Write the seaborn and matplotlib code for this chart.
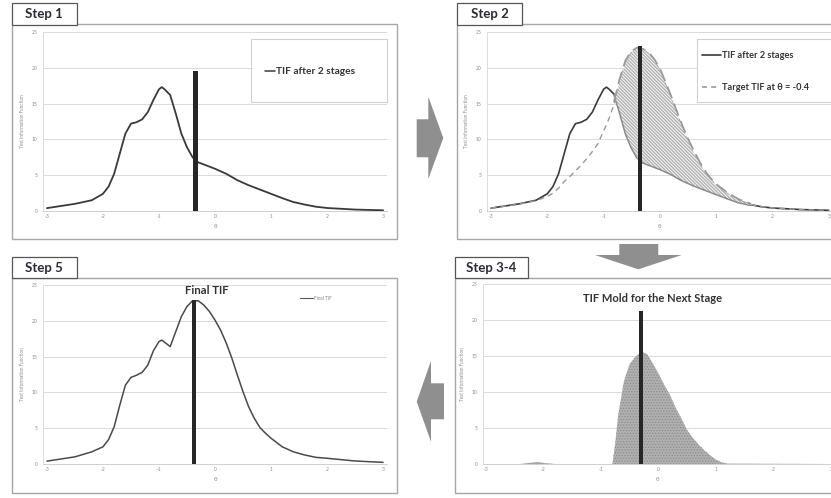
import matplotlib
matplotlib.use("Agg")
import matplotlib.pyplot as plt
import seaborn as sns
import numpy as np
from matplotlib.patches import Rectangle, Polygon
from matplotlib.lines import Line2D

# ---------------------------------------------------------------- data
theta = [-3, -2.5, -2.2, -2.0, -1.9, -1.8, -1.7, -1.6, -1.5, -1.4, -1.3, -1.2,
         -1.1, -1.0, -0.95, -0.9, -0.8, -0.7, -0.6, -0.5, -0.4, -0.3, -0.2,
         -0.1, 0.0, 0.1, 0.2, 0.3, 0.4, 0.5, 0.6, 0.7, 0.8, 0.9, 1.0, 1.2,
         1.4, 1.6, 1.8, 2.0, 2.5, 3.0]

tif_after_2 = [0.4, 1.0, 1.5, 2.4, 3.4, 5.2, 8.0, 10.8, 12.2, 12.4, 12.8, 13.8,
               15.5, 17.0, 17.3, 17.0, 16.2, 13.6, 10.8, 8.9, 7.5, 6.8, 6.5,
               6.2, 5.9, 5.55, 5.2, 4.75, 4.3, 3.95, 3.6, 3.3, 3.0, 2.7, 2.4,
               1.8, 1.25, 0.9, 0.6, 0.42, 0.2, 0.1]

target_tif = [0.4, 0.95, 1.45, 2.0, 2.5, 3.2, 4.1, 4.8, 5.6, 6.4, 7.3, 8.3,
              9.4, 11.2, 12.0, 13.0, 15.2, 18.4, 20.9, 22.2, 22.7, 22.5, 22.0,
              21.0, 19.6, 17.7, 15.7, 13.6, 11.6, 9.8, 8.2, 6.7, 5.4, 4.4, 3.6,
              2.4, 1.5, 0.95, 0.62, 0.43, 0.2, 0.1]

final_tif = [0.4, 1.0, 1.7, 2.4, 3.4, 5.2, 8.2, 11.0, 12.1, 12.4, 12.8, 13.8,
             15.8, 17.1, 17.3, 17.0, 16.4, 18.5, 20.6, 22.0, 22.8, 22.8, 22.2,
             21.3, 20.1, 18.7, 16.9, 14.8, 12.4, 10.1, 8.0, 6.4, 5.1, 4.3, 3.6,
             2.4, 1.7, 1.26, 0.93, 0.8, 0.42, 0.23]

mold_theta = [-3, -2.4, -2.2, -2.1, -2.0, -1.8, -0.8, -0.75, -0.7, -0.6, -0.5,
              -0.4, -0.3, -0.2, -0.1, 0.0, 0.1, 0.2, 0.3, 0.4, 0.5, 0.6, 0.7,
              0.8, 0.9, 1.0, 1.1, 1.2, 3.0]
mold_tif = [0, 0, 0.2, 0.3, 0.15, 0, 0, 3.0, 6.8, 11.5, 13.9, 14.9, 15.6, 15.3,
            14.0, 12.6, 11.0, 9.6, 7.8, 6.3, 4.7, 3.6, 2.7, 1.9, 1.2, 0.6,
            0.25, 0.05, 0]

step_labels = ["Step 1", "Step 2", "Step 3-4", "Step 5"]
bar_theta = [-0.35, -0.35, -0.3, -0.38]
bar_height = [19.6, 23.0, 21.3, 22.9]

x_ticks = [-3, -2, -1, 0, 1, 2, 3]
y_ticks = [0, 5, 10, 15, 20, 25]
legend_tif2 = "TIF after 2 stages"
legend_target = "Target TIF at θ = -0.4"
legend_final = "Final TIF"
title_final = "Final TIF"
title_mold = "TIF Mold for the Next Stage"
y_label = "Test Information Function"
x_label = "θ"

# ---------------------------------------------------------------- style
W, H = 831, 498
sns.set_theme(style="white")
plt.rcParams["font.family"] = ["Lato", "DejaVu Sans"]
plt.rcParams["hatch.linewidth"] = 0.6

fig = plt.figure(figsize=(W / 100, H / 100), dpi=100)
fig.patch.set_facecolor("white")

LINE_DARK = "#3a3a3a"
GRAY_TXT = "#8c8c8c"
BAR = "#262626"
ARROW = "#8f8f8f"


def fx(x):
    return x / W


def fy(y):
    return 1 - y / H


def rect(x0, y0, x1, y1, z=-1, **kw):
    r = Rectangle((fx(x0), fy(y1)), (x1 - x0) / W, (y1 - y0) / H,
                  transform=fig.transFigure, zorder=z, **kw)
    fig.patches.append(r)


def poly(points, **kw):
    p = Polygon([(fx(x), fy(y)) for x, y in points], closed=True,
                transform=fig.transFigure, zorder=-1, **kw)
    fig.patches.append(p)


def fline(x0, y0, x1, y1, **kw):
    fig.lines.append(Line2D([fx(x0), fx(x1)], [fy(y0), fy(y1)],
                            transform=fig.transFigure, zorder=6, **kw))


def ftext(x, y, s, **kw):
    fig.text(fx(x), fy(y), s, zorder=7, **kw)


def make_axes(x0, y0, x1, y1, xlim):
    ax = fig.add_axes([fx(x0), fy(y1), (x1 - x0) / W, (y1 - y0) / H])
    ax.set_zorder(1)
    ax.set_facecolor("white")
    ax.set_xlim(*xlim)
    ax.set_ylim(0, 25)
    ax.set_xticks(x_ticks)
    ax.set_yticks(y_ticks)
    ax.set_xticklabels([str(v) for v in x_ticks])
    ax.set_yticklabels([str(v) for v in y_ticks])
    ax.grid(axis="y", color="#d9d9d9", linewidth=0.7)
    ax.grid(axis="x", visible=False)
    ax.set_axisbelow(True)
    for s in ["top", "right"]:
        ax.spines[s].set_visible(False)
    ax.spines["left"].set_color("#dcdcdc")
    ax.spines["left"].set_linewidth(0.7)
    ax.spines["bottom"].set_color("#d0d0d0")
    ax.spines["bottom"].set_linewidth(0.7)
    ax.tick_params(axis="x", length=0, labelsize=3.6, labelcolor=GRAY_TXT, pad=2.5)
    ax.tick_params(axis="y", length=0, labelsize=3.6, labelcolor=GRAY_TXT, pad=4.0)
    ax.set_xlabel(x_label, fontsize=4.2, color=GRAY_TXT, labelpad=3.5)
    ax.set_ylabel(y_label, fontsize=3.3, color=GRAY_TXT, labelpad=5.0)
    return ax


def theta_bar(ax, i):
    ax.bar(bar_theta[i], bar_height[i], width=0.077, color=BAR,
           linewidth=0, zorder=4)


def step_box(x0, y0, x1, y1, label):
    rect(x0, y0, x1, y1, z=5, facecolor="white", edgecolor="#555555", linewidth=0.9)
    ftext((x0 + x1) / 2, (y0 + y1) / 2 + 0.5, label, ha="center", va="center",
          fontsize=9.5, fontweight="bold", color="#2b2b35")


# ---------------------------------------------------------------- panel frames
frame_kw = dict(facecolor="white", edgecolor="#a6a6a6", linewidth=1.0)
rect(11.7, 24, 397, 239, **frame_kw)
rect(457, 24, 836, 239, **frame_kw)
rect(11.7, 278, 397, 493, **frame_kw)
rect(455, 278, 836, 493, **frame_kw)

step_box(11.7, 2.7, 76.7, 25, step_labels[0])
step_box(457, 2.7, 522, 25, step_labels[1])
step_box(455, 256.7, 528.3, 278.3, step_labels[2])
step_box(11.7, 256.7, 76.7, 278.3, step_labels[3])

# ---------------------------------------------------------------- arrows
poly([(416.7, 119.3), (428.3, 119.3), (428.3, 96.7), (443.3, 138),
      (428.3, 179), (428.3, 157.3), (416.7, 157.3)],
     facecolor=ARROW, edgecolor="none")
poly([(619.3, 244), (658.3, 244), (658.3, 255), (681.7, 255), (638.3, 269.3),
      (595, 255), (619.3, 255)], facecolor=ARROW, edgecolor="none")
poly([(444, 383.3), (431, 383.3), (431, 360.7), (416.7, 401.7), (431, 441.7),
      (431, 419.3), (444, 419.3)], facecolor=ARROW, edgecolor="none")

th = np.array(theta)
tif2 = np.array(tif_after_2)
tgt = np.array(target_tif)

# ---------------------------------------------------------------- Step 1
ax1 = make_axes(43, 32, 387, 211, (-3.07, 3.07))
sns.lineplot(x=theta, y=tif_after_2, ax=ax1, color=LINE_DARK, linewidth=1.3)
theta_bar(ax1, 0)
rect(251, 39, 387, 102, z=3, facecolor="white", edgecolor="#d0d0d0", linewidth=0.8)
fline(265, 71, 275, 71, color=LINE_DARK, linewidth=1.1)
ftext(275.5, 71, legend_tif2, ha="left", va="center", fontsize=7.3,
      fontweight="bold", color="#333333")

# ---------------------------------------------------------------- Step 2
ax2 = make_axes(487, 32, 831, 211, (-3.071, 3.04))
shade = (th >= -0.8) & (th <= 1.6)
sns.lineplot(x=theta, y=tif_after_2, ax=ax2, color=LINE_DARK, linewidth=1.2)
sns.lineplot(x=theta, y=target_tif, ax=ax2, color="#9a9a9a", linewidth=1.0,
             linestyle=(0, (4, 3)))
ax2.fill_between(th, tif2, tgt, where=shade & (tgt >= tif2), interpolate=True,
                 facecolor="#b4b4b4", edgecolor="white", hatch="\\" * 10,
                 linewidth=0, zorder=2.5)
sns.lineplot(x=th[shade], y=tif2[shade], ax=ax2, color="#8a8a8a", linewidth=2.2)
sns.lineplot(x=th[shade], y=tgt[shade], ax=ax2, color="#9a9a9a", linewidth=2.6,
             linestyle=(0, (3.5, 1.6)))
theta_bar(ax2, 1)
rect(697, 39, 840, 102, z=3, facecolor="white", edgecolor="#d0d0d0", linewidth=0.8)
fline(702, 55, 721, 55, color=LINE_DARK, linewidth=1.2)
ftext(722.5, 55, legend_tif2, ha="left", va="center", fontsize=6.7,
      fontweight="bold", color="#333333")
fline(702, 87, 718, 87, color="#9a9a9a", linewidth=1.2, linestyle=(0, (3, 2.5)))
ftext(722.5, 87, legend_target, ha="left", va="center", fontsize=6.7,
      fontweight="bold", color="#333333")

# ---------------------------------------------------------------- Step 3-4
ax4 = make_axes(483, 284, 831, 464, (-3.05, 2.97))
ax4.fill_between(mold_theta, 0, mold_tif, facecolor="#b0b0b0", edgecolor="#8c8c8c",
                 hatch="." * 6, linewidth=0, zorder=2)
theta_bar(ax4, 2)
ftext(652.5, 298, title_mold, ha="center", va="center", fontsize=8,
      fontweight="bold", color="#333333")

# ---------------------------------------------------------------- Step 5
ax3 = make_axes(43, 285, 387, 464, (-3.07, 3.07))
sns.lineplot(x=theta, y=final_tif, ax=ax3, color="#4a4a4a", linewidth=1.1)
theta_bar(ax3, 3)
ftext(207, 290, title_final, ha="center", va="center", fontsize=8.2,
      fontweight="bold", color="#333333")
fline(300, 298, 313, 298, color="#555555", linewidth=0.8)
ftext(314, 298, legend_final, ha="left", va="center", fontsize=3.4, color=GRAY_TXT)

for ax in (ax1, ax2, ax3, ax4):
    leg = ax.get_legend()
    if leg is not None:
        leg.remove()

fig.savefig("out.png", dpi=100, facecolor="white")
